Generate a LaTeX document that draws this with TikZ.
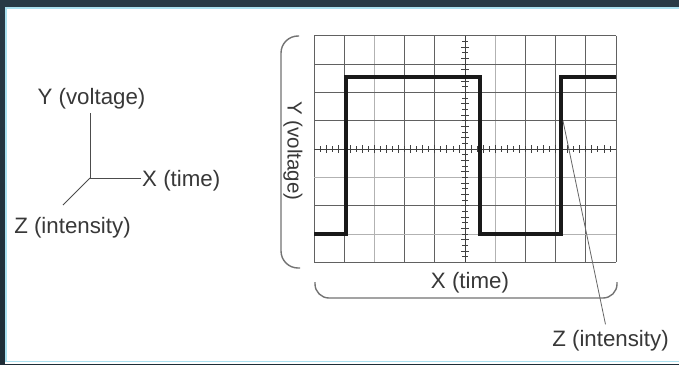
\documentclass[tikz,border=0pt]{standalone}
\usepackage{fontspec}
\setmainfont{Liberation Sans}
\begin{document}
\begin{tikzpicture}[x=1pt,y=-1pt,
  lbl/.style={inner sep=0pt, text=black!78, font=\fontsize{22.3}{25}\selectfont},
  gdark/.style={draw=black!62, line width=0.9pt},
  glight/.style={draw=black!30, line width=0.9pt},
  axisline/.style={draw=black!70, line width=0.8pt},
  brk/.style={draw=black!55, line width=1.4pt, rounded corners=17pt},
  wave/.style={draw=black!90, line width=4pt, line join=miter},
  pointer/.style={draw=black!60, line width=0.8pt}]
\useasboundingbox (0,0) rectangle (679,364);
% frame
\shade[top color={rgb,255:red,40;green,58;blue,70}, bottom color={rgb,255:red,30;green,45;blue,55}] (0,0) rectangle (679,364);
\fill[white] (5,7) rectangle (679,364);
\draw[color={rgb,255:red,170;green,225;blue,240}, line width=1.6pt] (679,7.8) -- (5.8,7.8) -- (5.8,361.5) -- (679,361.5);
% left axes
\coordinate (o) at (90,178);
\node[lbl] (yl) at (91.5,99) {Y (voltage)};
\node[lbl, anchor=west] (xl) at (142,181) {X (time)};
\node[lbl] (zl) at (72.5,228) {Z (intensity)};
\coordinate (ytop) at (90,113);
\coordinate (xend) at (141,178);
\coordinate (zend) at (63,205);
\draw[axisline] (o) -- (ytop);
\draw[axisline] (o) -- (xend);
\draw[axisline] (o) -- (zend);
% grid
\foreach \k/\s in {0/gdark,1/gdark,2/glight,3/gdark,4/gdark,6/glight,7/gdark,8/gdark,9/gdark,10/gdark}
  \draw[\s] ({314+30.2*\k},35.7) -- ({314+30.2*\k},262.3);
\foreach \j/\s in {0/gdark,1/gdark,2/gdark,3/gdark,5/glight,6/gdark,7/glight,8/gdark}
  \draw[\s] (314,{35.7+28.325*\j}) -- (616,{35.7+28.325*\j});
% center axes
\draw[draw=black!75, line width=1pt] (314,149) -- (616,149);
\draw[draw=black!75, line width=1pt] (465,35.7) -- (465,262.3);
\foreach \i in {1,...,49}
  \pgfmathsetmacro{\tl}{mod(\i,2)==0 ? 4 : 2.6}
  \draw[draw=black!75, line width=0.8pt] ({314+6.04*\i},{149-\tl}) -- ({314+6.04*\i},{149+\tl});
\foreach \i in {1,...,39}
  \pgfmathsetmacro{\tl}{mod(\i,2)==0 ? 4 : 2.6}
  \draw[draw=black!75, line width=0.8pt] ({465-\tl},{35.7+5.665*\i}) -- ({465+\tl},{35.7+5.665*\i});
% waveform
\draw[wave] (314,234) -- (346,234) -- (346,77) -- (479.5,77) -- (479.5,234) -- (561,234) -- (561,77) -- (616,77);
% brackets
\draw[brk] (299,36) -- (281,36) -- (281,268) -- (300,268);
\draw[brk, rounded corners=14pt] (315,282) -- (315,298) -- (617,298) -- (617,282);
% labels right
\node[lbl, rotate=-90, font=\fontsize{20.5}{24}\selectfont] (yr) at (293,151) {Y (voltage)};
\node[lbl] (xr) at (470,283) {X (time)};
\node[lbl] (zr) at (610.5,341) {Z (intensity)};
\coordinate (ptip) at (563,121);
\draw[pointer] (ptip) -- ([xshift=-5pt,yshift=6pt]zr.north);
\end{tikzpicture}
\end{document}
